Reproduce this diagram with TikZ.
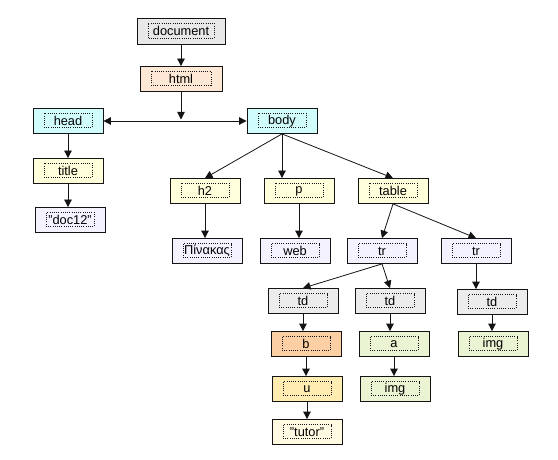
\documentclass[tikz,border=0pt]{standalone}
\usepackage{fontspec}
\setmainfont{Liberation Sans}
\usetikzlibrary{arrows.meta,positioning}
\definecolor{DomGray}{RGB}{232,232,232}
\definecolor{DomPeach}{RGB}{252,232,212}
\definecolor{DomCyan}{RGB}{208,252,252}
\definecolor{DomYellow}{RGB}{255,255,220}
\definecolor{DomLavender}{RGB}{244,242,255}
\definecolor{DomCell}{RGB}{236,236,236}
\definecolor{DomOrange}{RGB}{252,208,164}
\definecolor{DomGold}{RGB}{255,236,176}
\definecolor{DomCream}{RGB}{255,250,225}
\definecolor{DomGreen}{RGB}{234,244,210}
\definecolor{DomLine}{RGB}{20,20,20}

\begin{document}
\begin{tikzpicture}[
    x=1pt, y=-1pt,
    tag/.style={draw=DomLine, line width=0.8pt, minimum width=70pt, minimum height=25pt, inner sep=0pt, font=\fontsize{12.8}{15}\selectfont,
      path picture={\draw[dash pattern=on 0.8pt off 1.4pt, line width=0.8pt] ([xshift=11pt,yshift=6pt]path picture bounding box.south west) rectangle ([xshift=-11pt,yshift=-5pt]path picture bounding box.north east);}},
    taggray/.style={tag, fill=DomGray},
    tagpeach/.style={tag, fill=DomPeach},
    tagcyan/.style={tag, fill=DomCyan},
    tagyellow/.style={tag, fill=DomYellow},
    taglav/.style={tag, fill=DomLavender},
    tagcell/.style={tag, fill=DomCell},
    tagorange/.style={tag, fill=DomOrange},
    taggold/.style={tag, fill=DomGold},
    tagcream/.style={tag, fill=DomCream},
    taggreen/.style={tag, fill=DomGreen},
    arrow/.style={-{Triangle[length=7.5pt,width=7.5pt]}, line width=0.8pt, draw=DomLine},
    biarrow/.style={{Triangle[length=7.5pt,width=7.5pt]}-{Triangle[length=7.5pt,width=7.5pt]}, line width=0.8pt, draw=DomLine}
  ]
    \useasboundingbox (0,0) rectangle (558,460);
    \node[taggray, minimum width=88pt, minimum height=26pt] (document) at (181,31) {document};
    \node[tagpeach, minimum width=82pt] (html) at (181,79) {html};
    \node[tagcyan] (head) at (68,121) {head};
    \node[tagcyan] (body) at (282,121) {body};
    \node[tagyellow] (title) at (68,171) {title};
    \node[taglav] (doc12) at (70,220) {"doc12"};
    \node[tagyellow] (h2) at (205,191) {h2};
    \node[tagyellow] (p) at (299,191) {p};
    \node[tagyellow] (table) at (393,191) {table};
    \node[taglav] (pinakas) at (207,251) {Πίνακας};
    \node[taglav] (web) at (295,251) {web};
    \node[taglav] (trA) at (382,251) {tr};
    \node[taglav] (trB) at (476,251) {tr};
    \node[tagcell] (tdA) at (303,301) {td};
    \node[tagcell] (tdB) at (390,301) {td};
    \node[tagcell] (tdC) at (492,302) {td};
    \node[tagorange] (b) at (306,344) {b};
    \node[taggreen] (a) at (394,344) {a};
    \node[taggreen] (imgC) at (493,344) {img};
    \node[taggold] (u) at (307,389) {u};
    \node[taggreen] (imgB) at (395,389) {img};
    \node[tagcream] (tutor) at (307,432) {"tutor"};
    \coordinate (split) at (html.south |- head.east);
    \draw[arrow] (document.south) -- (html.north);
    \draw[arrow, shorten >=1.5pt] (html.south) -- (split);
    \draw[biarrow] (head) -- (body);
    \foreach \a/\b in {head/title,title/doc12,body/p,h2/pinakas,p/web,trB/tdC,tdA/b,tdB/a,tdC/imgC,b/u,a/imgB,u/tutor} {\draw[arrow] (\a.south) -- (\a.south |- \b.north);}
    \foreach \a/\b in {body/h2,body/table,table/trA,table/trB,trA/tdA,trA/tdB} {\draw[arrow] (\a.south) -- (\b.north);}
  \end{tikzpicture}
\end{document}
